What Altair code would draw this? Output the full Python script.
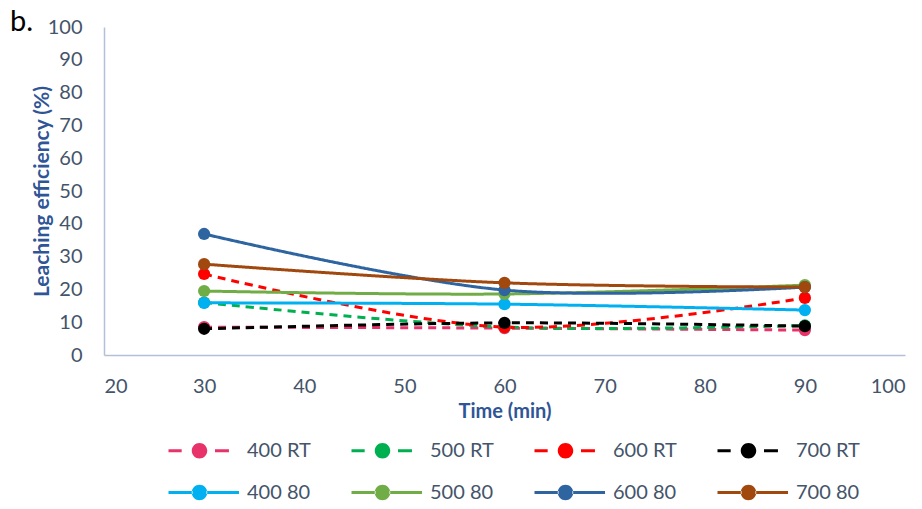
import altair as alt
import pandas as pd

times = [30, 60, 90]
series_names = ["400 RT", "500 RT", "600 RT", "700 RT", "400 80", "500 80", "600 80", "700 80"]
s400_rt = [8.5, 8.2, 7.6]
s500_rt = [16.0, 8.5, 9.0]
s600_rt = [24.7, 8.5, 17.4]
s700_rt = [8.0, 9.8, 8.8]
s400_80 = [15.9, 15.5, 13.7]
s500_80 = [19.5, 18.6, 21.3]
s600_80 = [36.9, 19.8, 20.7]
s700_80 = [27.7, 22.0, 20.7]
colors = ["#E8336A", "#00B050", "#FF0000", "#000000", "#00B0F0", "#70AD47", "#2E64A0", "#A0480E"]

values = [s400_rt, s500_rt, s600_rt, s700_rt, s400_80, s500_80, s600_80, s700_80]
rows = []
for name, vals in zip(series_names, values):
    for t, v in zip(times, vals):
        rows.append({"series": name, "time": t, "value": v})
df = pd.DataFrame(rows)

circle = "M-0.5,0 A0.5,0.5 0 1,0 0.5,0 A0.5,0.5 0 1,0 -0.5,0 Z"
dashed_path = ("M-2,-0.1 L-1.15,-0.1 L-1.15,0.1 L-2,0.1 Z "
               "M1.0,-0.1 L1.9,-0.1 L1.9,0.1 L1.0,0.1 Z " + circle)
solid_path = ("M-2,-0.1 L-0.45,-0.1 L-0.45,0.1 L-2,0.1 Z "
              "M0.45,-0.1 L2.55,-0.1 L2.55,0.1 L0.45,0.1 Z " + circle)
shapes = [dashed_path if "RT" in s else solid_path for s in series_names]
dashes = [[8, 6] if "RT" in s else [1, 0] for s in series_names]

x_enc = alt.X("time:Q", scale=alt.Scale(domain=[20, 100]),
              axis=alt.Axis(values=list(range(20, 101, 10)), title="Time (min)"))
y_enc = alt.Y("value:Q", scale=alt.Scale(domain=[0, 100]),
              axis=alt.Axis(values=list(range(0, 101, 10)), title="Leaching efficiency (%)"))
color_scale = alt.Scale(domain=series_names, range=colors)

lines = alt.Chart(df).mark_line(strokeWidth=3, interpolate="cardinal").encode(
    x=x_enc, y=y_enc,
    color=alt.Color("series:N", scale=color_scale, legend=None),
    strokeDash=alt.StrokeDash("series:N", scale=alt.Scale(domain=series_names, range=dashes), legend=None),
    order=alt.Order("time:Q"),
)

points = alt.Chart(df).mark_circle(size=150, opacity=1).encode(
    x=x_enc, y=y_enc,
    color=alt.Color("series:N", scale=color_scale, legend=None),
)

legend_layer = alt.Chart(df).mark_point(filled=True, size=0, opacity=1).encode(
    x=x_enc, y=y_enc,
    color=alt.Color("series:N", scale=color_scale, title=None,
                    legend=alt.Legend(orient="none", legendX=80, legendY=408, columns=4,
                                      direction="horizontal",
                                      columnPadding=40, rowPadding=16,
                                      symbolSize=961, symbolOpacity=1, symbolStrokeWidth=0,
                                      labelOffset=32, labelFontSize=20, labelColor="#44546A",
                                      labelFont="Lato", labelLimit=200)),
    shape=alt.Shape("series:N", scale=alt.Scale(domain=series_names, range=shapes), title=None),
)

chart = alt.layer(lines, points, legend_layer).resolve_scale(
    color="independent", shape="independent", strokeDash="independent"
).properties(
    width=801, height=328,
    title=alt.TitleParams("b.", anchor="start", frame="group", fontSize=29, font="Lato",
                          fontWeight="normal", color="#000000", dy=24, dx=-94),
    padding={"left": 96, "top": 19, "right": 5, "bottom": 146},
    autosize=alt.AutoSizeParams(type="none"),
).configure_view(stroke=None).configure_axis(
    grid=False, ticks=False, domainColor="#B4C0D8", domainWidth=1.5,
    labelFont="Lato", labelFontSize=20, labelColor="#44546A",
    titleFont="Lato", titleFontSize=20, titleColor="#2F5597", titleFontWeight="bold",
).configure_axisX(labelPadding=21, titlePadding=5).configure_axisY(
    labelPadding=22, titlePadding=-5, titleFontSize=21)

chart.save("out.html", embed_options={"renderer": "svg", "actions": False})
